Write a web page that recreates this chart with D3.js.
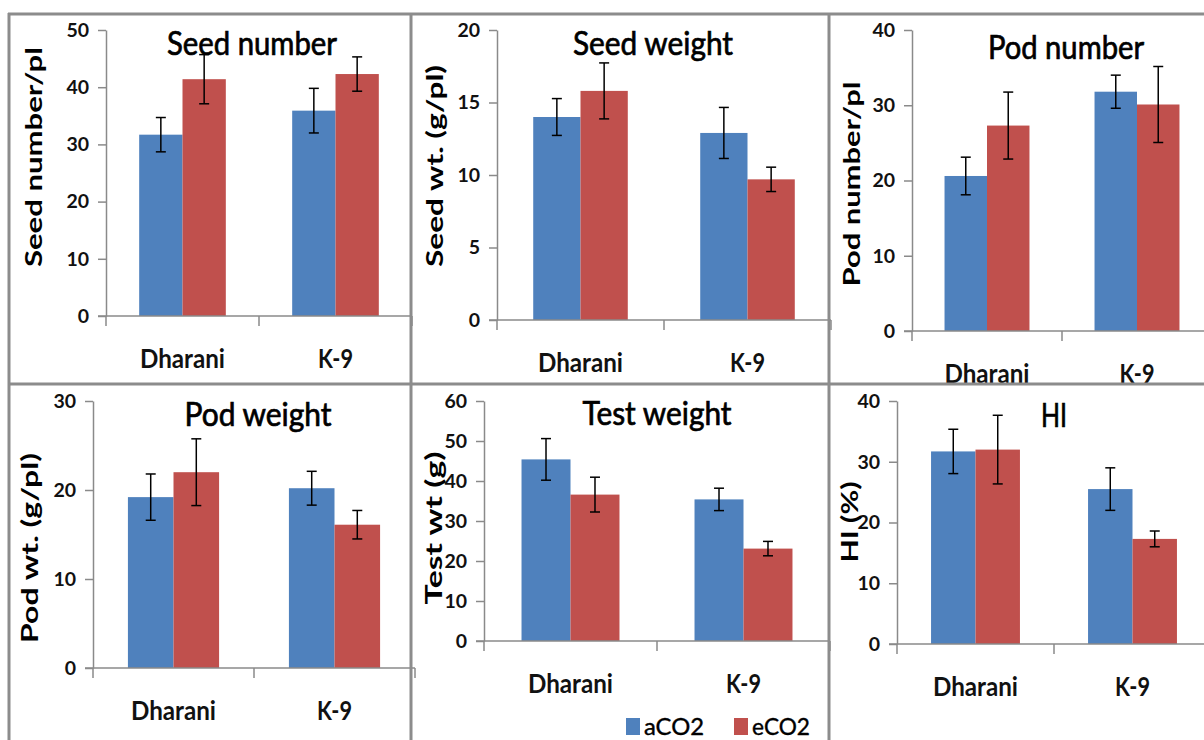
<!DOCTYPE html>
<html>
<head>
<meta charset="utf-8">
<script src="https://cdn.jsdelivr.net/npm/d3@7"></script>
<style>
  html, body { margin: 0; padding: 0; background: #fff; }
  svg { display: block; font-family: Lato, "Open Sans", sans-serif; }
</style>
</head>
<body>
<svg id="chart" width="1204" height="740"></svg>
<script>
// ---------- data ----------
const categories = ["Dharani", "K-9"];
const series = ["aCO2", "eCO2"];
const panelTitles = ["Seed number", "Seed weight", "Pod number", "Pod weight", "Test weight", "HI"];
const yTitles = ["Seed number/pl", "Seed wt. (g/pl)", "Pod number/pl", "Pod wt. (g/pl)", "Test wt (g)", "HI (%)"];
const yMax = [50, 20, 40, 30, 60, 40];
const yStep = [10, 5, 10, 10, 10, 10];
const aCO2 = [[31.7, 35.9], [14.0, 12.9], [20.6, 31.8], [19.2, 20.2], [45.4, 35.4], [31.7, 25.5]];
const eCO2 = [[41.4, 42.3], [15.8, 9.7], [27.3, 30.1], [22.0, 16.1], [36.6, 23.1], [32.0, 17.3]];
const aCO2Err = [[3.0, 3.9], [1.27, 1.76], [2.5, 2.2], [2.6, 1.9], [5.2, 2.8], [3.65, 3.5]];
const eCO2Err = [[4.3, 3.0], [1.93, 0.84], [4.45, 5.05], [3.75, 1.6], [4.35, 1.8], [5.65, 1.3]];

// ---------- layout ----------
const layout = [
  { ax: 106, y0: 316, yTop: 30,  band: 153, tX: 252,  tY: 55,  tW: 170, ytOff: 64, ytC: 157, ytL: 220 },
  { ax: 497, y0: 320, yTop: 30,  band: 167, tX: 653,  tY: 55,  tW: 160, ytOff: 54, ytC: 166, ytL: 202 },
  { ax: 912, y0: 331, yTop: 30,  band: 150, tX: 1066, tY: 59,  tW: 156, ytOff: 52, ytC: 184, ytL: 205 },
  { ax: 93,  y0: 668, yTop: 401, band: 161, tX: 258,  tY: 426, tW: 147, ytOff: 55, ytC: 548, ytL: 190 },
  { ax: 484, y0: 641, yTop: 401, band: 173, tX: 657,  tY: 425, tW: 149, ytOff: 42, ytC: 528, ytL: 153 },
  { ax: 897, y0: 644, yTop: 401, band: 157, tX: 1054, tY: 427, tW: 26,  ytOff: 39, ytC: 522, ytL: 81 }
];
const catWidths = { "Dharani": 85, "K-9": 35 };
const colors = d3.scaleOrdinal().domain(series).range(["#4F81BD", "#C0504D"]);
const axisColor = "#8a8a8a";
const frameColor = "#8c8c8c";

const svg = d3.select("#chart");

layout.forEach((L, i) => {
  const g = svg.append("g");
  const x = d3.scaleBand().domain(categories).range([L.ax, L.ax + 2 * L.band]).padding(0);
  const xs = d3.scaleBand().domain(series).range([0, L.band]).paddingInner(0).paddingOuter(0.766);
  const y = d3.scaleLinear().domain([0, yMax[i]]).range([L.y0, L.yTop]);

  // bars
  const rows = [];
  categories.forEach((c, ci) => {
    rows.push({ c, s: "aCO2", v: aCO2[i][ci], e: aCO2Err[i][ci] });
    rows.push({ c, s: "eCO2", v: eCO2[i][ci], e: eCO2Err[i][ci] });
  });
  g.selectAll("rect.bar").data(rows).join("rect")
    .attr("class", "bar")
    .attr("x", d => x(d.c) + xs(d.s))
    .attr("width", xs.bandwidth())
    .attr("y", d => y(d.v))
    .attr("height", d => y(0) - y(d.v))
    .attr("fill", d => colors(d.s));

  // y axis
  const yAxis = d3.axisLeft(y)
    .tickValues(d3.range(0, yMax[i] + 0.001, yStep[i]))
    .tickSize(8).tickSizeOuter(0).tickPadding(9);
  const ya = g.append("g").attr("transform", `translate(${L.ax},0)`).call(yAxis);
  ya.select(".domain").attr("stroke", axisColor).attr("stroke-width", 1.5);
  ya.selectAll(".tick line").attr("stroke", axisColor).attr("stroke-width", 1.5);
  ya.selectAll(".tick text").attr("font-size", 19.5).attr("font-weight", "bold")
    .attr("fill", "#111").attr("font-family", "Lato, sans-serif");

  // x axis
  const xAxis = d3.axisBottom(x).tickSize(0).tickPadding(0).tickFormat("");
  const xa = g.append("g").attr("transform", `translate(0,${L.y0})`).call(xAxis);
  xa.select(".domain").attr("stroke", axisColor).attr("stroke-width", 1.5)
    .attr("d", `M${L.ax - 8},0H${L.ax + 2 * L.band}`);
  const bounds = [L.ax, L.ax + L.band, L.ax + 2 * L.band];
  xa.selectAll("line.bt").data(bounds).join("line").attr("class", "bt")
    .attr("x1", d => d).attr("x2", d => d).attr("y1", 0).attr("y2", 10)
    .attr("stroke", axisColor).attr("stroke-width", 1.5);

  // category labels
  g.selectAll("text.cat").data(categories).join("text").attr("class", "cat")
    .attr("x", d => x(d) + x.bandwidth() / 2)
    .attr("y", L.y0 + 52)
    .attr("text-anchor", "middle")
    .attr("font-size", 27).attr("font-weight", "bold").attr("fill", "#111")
    .attr("textLength", d => catWidths[d]).attr("lengthAdjust", "spacingAndGlyphs")
    .text(d => d);

  // error bars
  const eb = g.selectAll("g.eb").data(rows).join("g").attr("class", "eb")
    .attr("transform", d => `translate(${x(d.c) + xs(d.s) + xs.bandwidth() / 2},0)`);
  eb.append("line").attr("x1", 0).attr("x2", 0)
    .attr("y1", d => y(d.v + d.e)).attr("y2", d => y(d.v - d.e));
  eb.append("line").attr("x1", -5).attr("x2", 5)
    .attr("y1", d => y(d.v + d.e)).attr("y2", d => y(d.v + d.e));
  eb.append("line").attr("x1", -5).attr("x2", 5)
    .attr("y1", d => y(d.v - d.e)).attr("y2", d => y(d.v - d.e));
  eb.selectAll("line").attr("stroke", "#000").attr("stroke-width", 1.5);

  // title
  g.append("text").attr("x", L.tX).attr("y", L.tY).attr("text-anchor", "middle")
    .attr("font-size", 32).attr("fill", "#000")
    .attr("stroke", "#000").attr("stroke-width", 0.7)
    .attr("textLength", L.tW).attr("lengthAdjust", "spacingAndGlyphs")
    .text(panelTitles[i]);

  // y title
  g.append("text")
    .attr("transform", `translate(${L.ax - L.ytOff},${L.ytC}) rotate(-90)`)
    .attr("text-anchor", "middle")
    .attr("font-size", 23.5).attr("font-weight", "bold").attr("fill", "#000")
    .attr("textLength", L.ytL).attr("lengthAdjust", "spacingAndGlyphs")
    .text(yTitles[i]);
});

// legend (bottom of middle panel)
const legendPos = [{ x: 626, w: 60 }, { x: 734, w: 58 }];
const lg = svg.append("g");
series.forEach((s, k) => {
  lg.append("rect").attr("x", legendPos[k].x).attr("y", 718).attr("width", 14).attr("height", 17)
    .attr("fill", colors(s));
  lg.append("text").attr("x", legendPos[k].x + 18).attr("y", 735)
    .attr("font-size", 24).attr("fill", "#000")
    .attr("stroke", "#000").attr("stroke-width", 0.4)
    .attr("textLength", legendPos[k].w).attr("lengthAdjust", "spacingAndGlyphs")
    .text(s);
});

// frame lines (collage borders)
const frame = svg.append("g").attr("stroke", frameColor).attr("stroke-width", 3).attr("fill", "none");
frame.append("line").attr("x1", 8).attr("x2", 1204).attr("y1", 14).attr("y2", 14);
frame.append("line").attr("x1", 9).attr("x2", 9).attr("y1", 13).attr("y2", 740);
frame.append("line").attr("x1", 411).attr("x2", 411).attr("y1", 13).attr("y2", 740);
frame.append("line").attr("x1", 829).attr("x2", 829).attr("y1", 13).attr("y2", 740);
frame.append("line").attr("x1", 8).attr("x2", 1204).attr("y1", 384).attr("y2", 384);
</script>
</body>
</html>
